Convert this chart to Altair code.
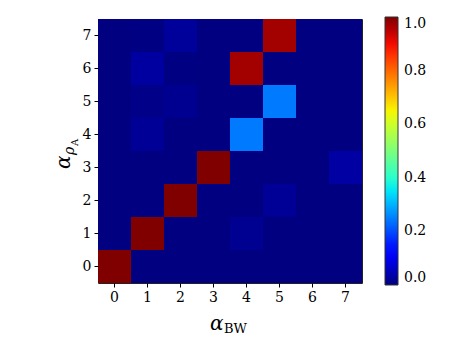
import altair as alt
import pandas as pd

x_vals = [0, 1, 2, 3, 4, 5, 6, 7]
y_vals = [0, 1, 2, 3, 4, 5, 6, 7]
# rows: y = 0 .. 7 ; columns: x = 0 .. 7
row0 = [1.0, 0.0, 0.0, 0.0, 0.0, 0.0, 0.0, 0.0]
row1 = [0.0, 1.0, 0.0, 0.0, 0.015, 0.0, 0.0, 0.0]
row2 = [0.0, 0.0, 1.0, 0.0, 0.0, 0.02, 0.0, 0.0]
row3 = [0.0, 0.0, 0.0, 1.0, 0.0, 0.0, 0.0, 0.03]
row4 = [0.0, 0.02, 0.0, 0.0, 0.245, 0.0, 0.0, 0.0]
row5 = [0.0, 0.007, 0.014, 0.0, 0.0, 0.245, 0.0, 0.0]
row6 = [0.0, 0.028, 0.003, 0.0, 0.97, 0.0, 0.0, 0.0]
row7 = [0.0, 0.003, 0.023, 0.0, 0.0, 0.97, 0.0, 0.0]
rows = [row0, row1, row2, row3, row4, row5, row6, row7]

cbar_ticks = [0.0, 0.2, 0.4, 0.6, 0.8, 1.0]

# matplotlib "jet" colormap breakpoints
jet_stops = [0.0, 0.11, 0.125, 0.34, 0.35, 0.375, 0.64, 0.65, 0.66, 0.89, 0.91, 1.0]
jet_colors = ["#000080", "#0000ff", "#0000ff", "#00dbff", "#00e5f7", "#15ffe2",
              "#eeff08", "#f7f500", "#ffec00", "#ff1300", "#e80000", "#800000"]

records = []
for yi, row in zip(y_vals, rows):
    for xi, v in zip(x_vals, row):
        records.append({"x": xi, "y": yi, "v": v})
df = pd.DataFrame(records)

W, H = 264, 264
SERIF = "DejaVu Serif"

cscale = alt.Scale(domain=jet_stops, range=jet_colors, interpolate="rgb")

heat = alt.Chart(df).mark_rect().encode(
    x=alt.X("x:O", title=None, sort=x_vals,
            scale=alt.Scale(paddingInner=0, paddingOuter=0),
            axis=alt.Axis(labelAngle=0)),
    y=alt.Y("y:O", title=None, sort=list(reversed(y_vals)),
            scale=alt.Scale(paddingInner=0, paddingOuter=0)),
    color=alt.Color("v:Q", scale=cscale,
                    legend=alt.Legend(
                        title=None, orient="none", legendX=287, legendY=-2,
                        direction="vertical", gradientLength=268, gradientThickness=13,
                        gradientStrokeColor="#333", gradientStrokeWidth=1,
                        values=cbar_ticks, format=".1f",
                        labelFont=SERIF, labelFontSize=14, labelColor="black",
                        labelBaseline="middle",
                        labelOffset=6, labelOverlap=False)),
)

one = alt.Data(values=[{"a": 1}])

def txt(s, x, y, size, angle=0, italic=False):
    m = alt.Chart(one).mark_text(text=s, align="left", baseline="alphabetic",
                                 font=SERIF, fontSize=size, color="black",
                                 angle=angle,
                                 fontStyle="italic" if italic else "normal")
    return m.encode(x=alt.value(x), y=alt.value(y))

x_alpha = txt("α", 112, 311, 20, italic=True)
x_sub = txt("BW", 126, 314, 13)
y_alpha = txt("α", -28, 150, 20, angle=270, italic=True)
y_sub = txt("ρ", -24, 136, 14, angle=270, italic=True)
y_subsub = txt("A", -20, 127, 10, angle=270)

chart = alt.layer(heat, x_alpha, x_sub, y_alpha, y_sub, y_subsub).properties(
    width=W, height=H,
    autosize=alt.AutoSizeParams(type="none"),
    padding={"left": 90, "top": 11, "right": 88, "bottom": 53},
    background="white",
).configure_view(
    stroke="#222", strokeWidth=1
).configure_axis(
    domain=False, ticks=True, tickColor="black", tickSize=4, tickWidth=1,
    labelFont=SERIF, labelFontSize=14, labelColor="black", labelPadding=3,
    grid=False,
)

chart.save("out.html", embed_options={"renderer": "svg", "actions": False})
